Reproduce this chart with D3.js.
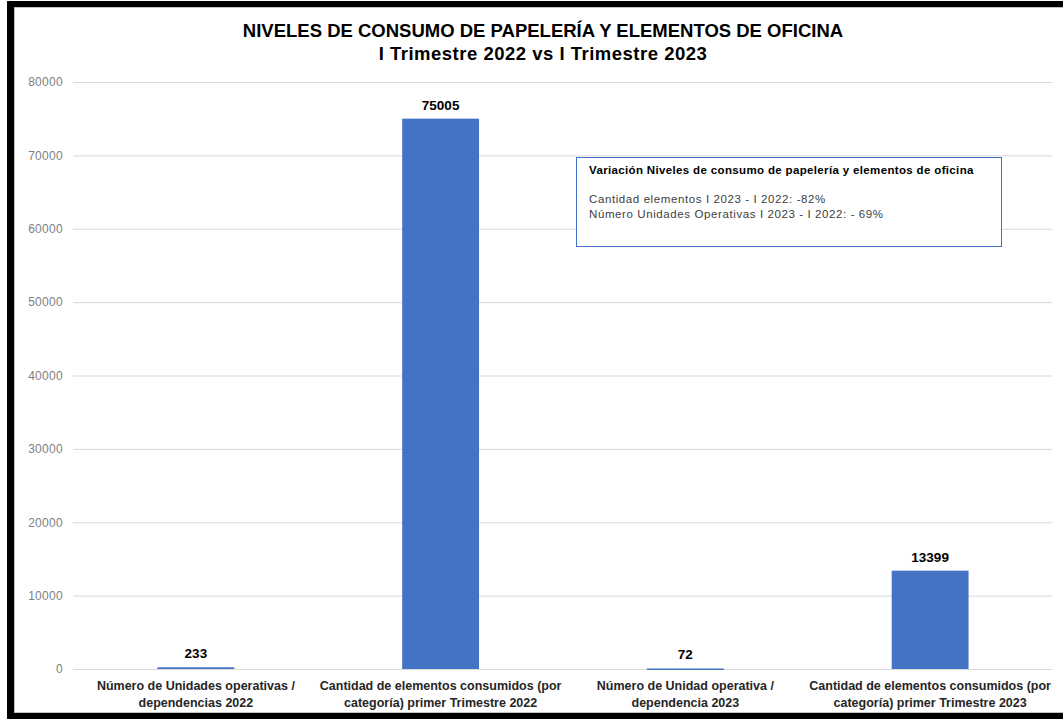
<!DOCTYPE html>
<html>
<head>
<meta charset="utf-8">
<script src="https://cdn.jsdelivr.net/npm/d3@7"></script>
<style>
  body { margin: 0; background: #fff; }
  text { font-family: "Liberation Sans", Arial, sans-serif; }
</style>
</head>
<body>
<script>
'use strict';

// chart data
const categories = [
  ["Número de Unidades operativas /", "dependencias 2022"],
  ["Cantidad de elementos consumidos (por", "categoría) primer Trimestre 2022"],
  ["Número de Unidad operativa /", "dependencia 2023"],
  ["Cantidad de elementos consumidos (por", "categoría) primer Trimestre 2023"]
];
const values = [233, 75005, 72, 13399];
const yTicks = [0, 10000, 20000, 30000, 40000, 50000, 60000, 70000, 80000];
const titleLines = ["NIVELES DE CONSUMO DE PAPELERÍA Y ELEMENTOS DE OFICINA", "I Trimestre 2022 vs I Trimestre 2023"];
const noteTitle = "Variación Niveles de consumo  de papelería y elementos de oficina";
const noteLines = ["Cantidad elementos I 2023 - I 2022: -82%", "Número Unidades Operativas I 2023 - I 2022:  - 69%"];

const width = 1063, height = 719;
const svg = d3.select('body').append('svg')
  .attr('width', width)
  .attr('height', height);

// outer frame
svg.append('rect')
  .attr('x', 10.5).attr('y', 4.5)
  .attr('width', width + 20).attr('height', 712)
  .attr('fill', '#fff')
  .attr('stroke', '#000')
  .attr('stroke-width', 7);
svg.append('rect')
  .attr('x', 14.5).attr('y', 7.5)
  .attr('width', width + 20).attr('height', 705)
  .attr('fill', 'none')
  .attr('stroke', '#bfbfbf')
  .attr('stroke-width', 1);

// scales
const x = d3.scaleBand()
  .domain(d3.range(values.length))
  .range([73.5, 1052.5])
  .paddingInner(0.686)
  .paddingOuter(0.343);

const y = d3.scaleLinear()
  .domain([0, 80000])
  .range([669, 82]);

// gridlines + y labels
const yAxis = d3.axisLeft(y)
  .tickValues(yTicks)
  .tickSize(-(1052 - 73))
  .tickPadding(10)
  .tickFormat(d3.format('d'));
const gy = svg.append('g')
  .attr('transform', 'translate(73,0)')
  .call(yAxis);
gy.select('.domain').remove();
gy.selectAll('.tick line').attr('stroke', '#d9d9d9').attr('stroke-width', 1);
gy.selectAll('.tick text')
  .attr('fill', '#7f7f7f')
  .style('font-family', '"Liberation Sans", Arial, sans-serif')
  .style('font-size', '12px')
  .style('letter-spacing', '0.3px');

// bars
svg.selectAll('.bar')
  .data(values)
  .enter()
  .append('rect')
  .attr('class', 'bar')
  .attr('x', (d, i) => x(i))
  .attr('y', d => y(d))
  .attr('width', x.bandwidth())
  .attr('height', d => Math.max(1.5, y(0) - y(d)))
  .attr('fill', '#4472c4');

// value labels
svg.selectAll('.val')
  .data(values)
  .enter()
  .append('text')
  .attr('class', 'val')
  .attr('x', (d, i) => x(i) + x.bandwidth() / 2)
  .attr('y', d => y(d) - 9)
  .attr('text-anchor', 'middle')
  .style('font-weight', 'bold')
  .style('font-size', '13.5px')
  .attr('fill', '#000')
  .text(d => d);

// category labels
const cat = svg.selectAll('.cat')
  .data(categories)
  .enter()
  .append('text')
  .attr('class', 'cat')
  .attr('text-anchor', 'middle')
  .attr('fill', '#262626')
  .style('font-weight', 'bold')
  .style('font-size', '12.5px');
cat.selectAll('tspan')
  .data((d, i) => d.map(line => ({ line, i })))
  .enter()
  .append('tspan')
  .attr('x', d => x(d.i) + x.bandwidth() / 2)
  .attr('y', (d, j) => 690 + j * 17)
  .text(d => d.line);

// title
svg.selectAll('.title')
  .data(titleLines)
  .enter()
  .append('text')
  .attr('class', 'title')
  .attr('x', 543)
  .attr('y', (d, i) => 37 + i * 23)
  .attr('text-anchor', 'middle')
  .attr('fill', '#000')
  .style('font-weight', 'bold')
  .style('font-size', '18.5px')
  .style('letter-spacing', (d, i) => i === 0 ? '0px' : '0.5px')
  .text(d => d);

// note box
svg.append('rect')
  .attr('x', 576.5).attr('y', 157.5)
  .attr('width', 425).attr('height', 89)
  .attr('fill', '#fff')
  .attr('stroke', '#4472c4')
  .attr('stroke-width', 1);
svg.append('text')
  .attr('x', 589).attr('y', 174)
  .attr('fill', '#000')
  .style('font-weight', 'bold')
  .style('font-size', '11.5px')
  .style('letter-spacing', '0.35px')
  .text(noteTitle);
svg.selectAll('.note')
  .data(noteLines)
  .enter()
  .append('text')
  .attr('class', 'note')
  .attr('x', 589)
  .attr('y', (d, i) => 203 + i * 15)
  .attr('fill', '#404040')
  .style('font-size', '11.5px')
  .style('letter-spacing', '0.6px')
  .text(d => d);
</script>
</body>
</html>
